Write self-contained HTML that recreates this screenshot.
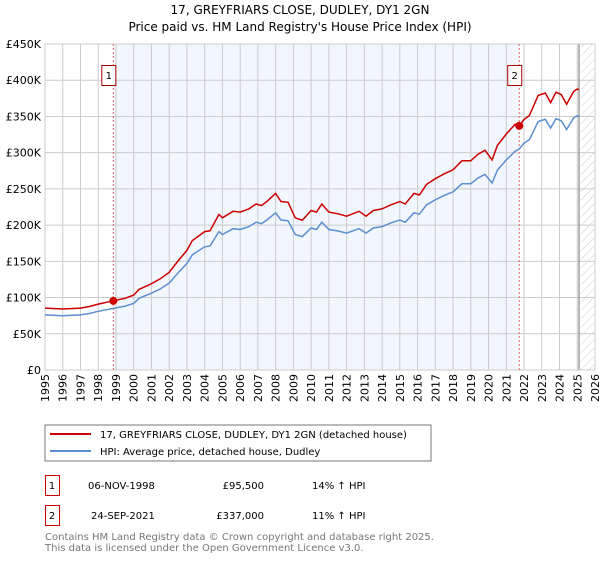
<!DOCTYPE html>
<html><head><meta charset="utf-8"><style>
body{margin:0;background:#fff;width:600px;height:560px;overflow:hidden;font-family:"DejaVu Sans","Liberation Sans",sans-serif}
svg text{font-family:"DejaVu Sans","Liberation Sans",sans-serif}
</style></head><body>
<svg id="c" width="600" height="560" xmlns="http://www.w3.org/2000/svg">
<defs><pattern id="hatch" width="6" height="6" patternUnits="userSpaceOnUse" patternTransform="rotate(45)"><line x1="0" y1="0" x2="0" y2="6" stroke="#ccc" stroke-width="1"/></pattern></defs>
<text x="300" y="14" text-anchor="middle" font-size="12" fill="#000">17, GREYFRIARS CLOSE, DUDLEY, DY1 2GN</text>
<text x="300" y="31" text-anchor="middle" font-size="12" fill="#000">Price paid vs. HM Land Registry's House Price Index (HPI)</text>
<g id="plot"></g>
<rect x="45" y="425" width="386" height="36" fill="#fff" stroke="#777"/>
<line x1="50" y1="434" x2="91" y2="434" stroke="#cc0000" stroke-width="2"/>
<text x="100" y="438" font-size="10">17, GREYFRIARS CLOSE, DUDLEY, DY1 2GN (detached house)</text>
<line x1="50" y1="451" x2="91" y2="451" stroke="#5b8fd0" stroke-width="2"/>
<text x="100" y="455" font-size="10">HPI: Average price, detached house, Dudley</text>
<g>
<rect x="45.5" y="475.5" width="14" height="20" fill="none" stroke="#cc0000"/>
<text x="52" y="489" text-anchor="middle" font-size="10">1</text>
<text x="88" y="489" font-size="10">06-NOV-1998</text>
<text x="264" y="489" text-anchor="end" font-size="10">£95,500</text>
<text x="312" y="489" font-size="10">14% ↑ HPI</text></g>
<g>
<rect x="45.5" y="505.5" width="14" height="20" fill="none" stroke="#cc0000"/>
<text x="52" y="519" text-anchor="middle" font-size="10">2</text>
<text x="91" y="519" font-size="10">24-SEP-2021</text>
<text x="264" y="519" text-anchor="end" font-size="10">£337,000</text>
<text x="312" y="519" font-size="10">11% ↑ HPI</text></g>
<text x="45" y="540" font-size="10" fill="#777">Contains HM Land Registry data © Crown copyright and database right 2025.</text>
<text x="45" y="551" font-size="10" fill="#777">This data is licensed under the Open Government Licence v3.0.</text>
</svg>
<script>
const hpiYears=[1995,1996,1997,1997.5,1998,1998.85,1999.5,2000,2000.3,2001,2001.5,2002,2002.5,2003,2003.3,2004,2004.3,2004.8,2005,2005.6,2006,2006.5,2006.9,2007.2,2007.5,2008,2008.3,2008.7,2009.1,2009.5,2010,2010.3,2010.6,2011,2011.5,2012,2012.7,2013.1,2013.5,2014,2014.5,2015,2015.3,2015.8,2016.1,2016.5,2017,2017.5,2018,2018.5,2019,2019.4,2019.8,2020.2,2020.5,2021,2021.5,2021.73,2022,2022.3,2022.8,2023.2,2023.5,2023.8,2024.1,2024.4,2024.8,2025,2025.1];
const hpiValues=[76,75,76,78,81,85,88,92,99,106,112,120,134,147,159,170,171,191,187,195,194,198,204,202,207,217,207,206,187,184,196,194,204,194,192,189,195,189,196,198,203,207,204,217,215,228,235,241,246,257,257,265,270,258,276,290,302,305,313,318,343,346,334,347,344,332,348,351,350];
const saleYears=[1998.85,2021.73];
const salePrices=[95.5,337];
const yTicks=[0,50,100,150,200,250,300,350,400,450];
const yTickLabels=["£0","£50K","£100K","£150K","£200K","£250K","£300K","£350K","£400K","£450K"];
const xTicks=[];for(let y=1995;y<=2026;y++)xTicks.push(y);
const X0=45,X1=595,Y0=370,Y1=44;
const xs=t=>X0+(t-1995)/(2026-1995)*(X1-X0);
const ys=v=>Y0-v/450*(Y0-Y1);
const NS="http://www.w3.org/2000/svg";
const g=document.getElementById('plot');
function mk(tag,attrs,parent){const e=document.createElementNS(NS,tag);for(const k in attrs)e.setAttribute(k,attrs[k]);(parent||g).appendChild(e);return e;}
function hpiAt(t){for(let i=1;i<hpiYears.length;i++){if(t<=hpiYears[i]){const a=hpiYears[i-1],b=hpiYears[i];return hpiValues[i-1]+(hpiValues[i]-hpiValues[i-1])*(t-a)/(b-a);}}return hpiValues[hpiValues.length-1];}
let e;
e=mk('rect',{x:xs(saleYears[0]),y:Y1,width:xs(saleYears[1])-xs(saleYears[0]),height:Y0-Y1,fill:'#f2f6fd'});


e=mk('rect',{x:xs(2025.2),y:Y1,width:X1-xs(2025.2),height:Y0-Y1,fill:'url(#hatch)'});


yTicks.forEach((v,i)=>{
 e=mk('line',{x1:X0,x2:X1,y1:ys(v),y2:ys(v),stroke:'#ccc','stroke-width':1});
 
 
 e=mk('text',{x:X0-4,y:ys(v)+4,'text-anchor':'end','font-size':11});
 e.textContent=yTickLabels[i];
 
 
});
xTicks.forEach(t=>{
 e=mk('line',{x1:xs(t),x2:xs(t),y1:Y1,y2:Y0,stroke:'#ccc','stroke-width':1});
 
 
 e=mk('text',{x:0,y:0,'font-size':11,'text-anchor':'end',transform:`translate(${xs(t)+4},${Y0+4}) rotate(-90)`});
 e.textContent=t;
 
 
});
e=mk('line',{x1:xs(2025.1),x2:xs(2025.1),y1:Y1,y2:Y0,stroke:'#888','stroke-width':1.2});


e=mk('rect',{x:X0,y:Y1,width:X1-X0,height:Y0-Y1,fill:'none',stroke:'#ccc'});


// sale markers lines
saleYears.forEach((t,i)=>{
 e=mk('line',{x1:xs(t),x2:xs(t),y1:Y1,y2:Y0,stroke:'#e06666','stroke-width':1,'stroke-dasharray':'2,2'});
 
 
 e=mk('rect',{x:xs(t)-11.5,y:65.5,width:14,height:20,fill:'#fff',stroke:'#aa0000'});
 
 
 e=mk('text',{x:xs(t)-4.5,y:79,'text-anchor':'middle','font-size':10});
 e.textContent=String(i+1);
 
 
});
// series
const hpiPts=hpiYears.map((t,i)=>xs(t).toFixed(1)+','+ys(hpiValues[i]).toFixed(1)).join(' ');
e=mk('polyline',{points:hpiPts,fill:'none',stroke:'#5b8fd0','stroke-width':1.5});


const k1=salePrices[0]/hpiAt(saleYears[0]),k2=salePrices[1]/hpiAt(saleYears[1]);
const redPts=hpiYears.map((t,i)=>{const k=t<saleYears[1]?k1:k2;return xs(t).toFixed(1)+','+ys(hpiValues[i]*k).toFixed(1);}).join(' ');
e=mk('polyline',{points:redPts,fill:'none',stroke:'#cc0000','stroke-width':1.5});


saleYears.forEach((t,i)=>{
 e=mk('circle',{cx:xs(t),cy:ys(salePrices[i]),r:4,fill:'#cc0000'});
 
 
});
</script>
</body></html>
